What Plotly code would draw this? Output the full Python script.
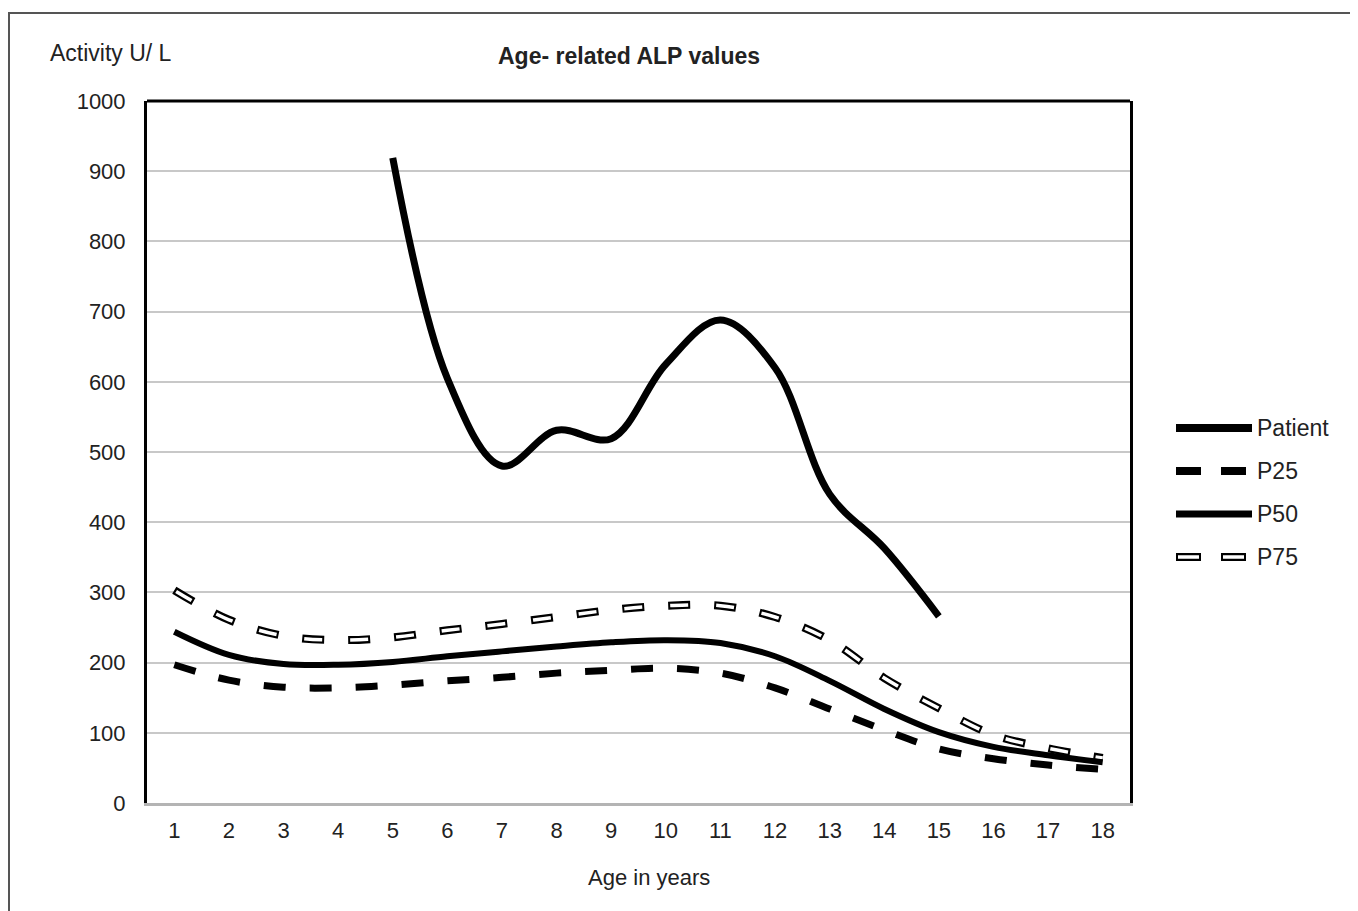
import plotly.graph_objects as go

ages = list(range(1, 19))
patient_ages = list(range(5, 16))
patient = [919, 605, 480, 531, 519, 625, 688, 620, 440, 363, 266]
p25 = [197, 175, 165, 164, 168, 174, 179, 185, 189, 192, 185, 164, 134, 104, 77, 63, 54, 48]
p50 = [244, 211, 198, 197, 201, 209, 216, 223, 229, 232, 228, 209, 174, 134, 101, 80, 68, 58]
p75 = [303, 261, 238, 232, 236, 246, 255, 265, 275, 281, 281, 265, 232, 178, 135, 97, 78, 64]
y_ticks = list(range(0, 1001, 100))
legend_names = ["Patient", "P25", "P50", "P75"]

FONT = "Liberation Sans, Arial, sans-serif"
TXT = "#222222"
fig = go.Figure()

spl = dict(shape="spline", smoothing=1.0)

fig.add_trace(go.Scatter(x=ages, y=p75, mode="lines", showlegend=False,
                         line=dict(color="black", width=8, dash="22px,24px", **spl)))
fig.add_trace(go.Scatter(x=ages, y=p75, mode="lines", showlegend=False,
                         line=dict(color="white", width=3.5, dash="0px,2px,18px,26px", **spl)))
fig.add_trace(go.Scatter(x=ages, y=p50, mode="lines", showlegend=False,
                         line=dict(color="black", width=6, **spl)))
fig.add_trace(go.Scatter(x=ages, y=p25, mode="lines", showlegend=False,
                         line=dict(color="black", width=7, dash="22px,24px", **spl)))
fig.add_trace(go.Scatter(x=patient_ages, y=patient, mode="lines", showlegend=False,
                         line=dict(color="black", width=7, **spl)))

# page offset from body margin (8px)
OX, OY = 8, 8
PL, PR, PT, PB = 147, 1130, 101, 803


def px_x(px):
    return (px - PL) / float(PR - PL)


def px_y(py):
    return (PB - py) / float(PB - PT)


shapes = [
    dict(type="line", xref="paper", yref="paper", x0=0, x1=1, y0=1, y1=1,
         line=dict(color="black", width=3)),
    dict(type="rect", xref="paper", yref="paper", x0=px_x(9), x1=1.4, y0=-0.3, y1=px_y(13),
         line=dict(color="#555555", width=2), fillcolor="rgba(0,0,0,0)"),
]

leg_y = [428, 471, 514, 557]
leg_styles = [
    [dict(color="black", width=8, dash="solid")],
    [dict(color="black", width=8, dash="25px,20px")],
    [dict(color="black", width=7, dash="solid")],
    [dict(color="black", width=8, dash="25px,20px"),
     dict(color="white", width=3.5, dash="0px,2px,21px,22px")],
]
annotations = []
for name, py, styles in zip(legend_names, leg_y, leg_styles):
    for st in styles:
        shapes.append(dict(type="line", xref="paper", yref="paper",
                           x0=px_x(1176), x1=px_x(1252), y0=px_y(py), y1=px_y(py),
                           line=st))
    annotations.append(dict(text=name, xref="paper", yref="paper", x=px_x(1255), y=px_y(py),
                            xanchor="left", yanchor="middle", showarrow=False,
                            font=dict(family=FONT, size=23, color=TXT)))

annotations.append(dict(text="Activity U/ L", xref="paper", yref="paper",
                        x=px_x(48), y=px_y(53), xanchor="left", yanchor="middle",
                        showarrow=False, font=dict(family=FONT, size=23, color=TXT)))
annotations.append(dict(text="<b>Age- related ALP values</b>", xref="paper", yref="paper",
                        x=px_x(629), y=px_y(56), xanchor="center", yanchor="middle",
                        showarrow=False, font=dict(family=FONT, size=23, color=TXT)))
annotations.append(dict(text="Age in years", xref="paper", yref="paper",
                        x=px_x(649), y=px_y(877), xanchor="center", yanchor="middle",
                        showarrow=False, font=dict(family=FONT, size=22, color=TXT)))

W, H = 1358 - OX, 911 - OY
fig.update_layout(
    width=W, height=H,
    margin=dict(l=PL - OX, r=W - (PR - OX), t=PT - OY, b=H - (PB - OY)),
    paper_bgcolor="white", plot_bgcolor="white",
    font=dict(family=FONT, size=22, color=TXT),
    shapes=shapes, annotations=annotations,
    showlegend=False,
)
fig.update_xaxes(range=[0.5, 18.5], tickmode="array", tickvals=ages,
                 ticktext=[str(a) for a in ages], showgrid=False, zeroline=False,
                 showline=True, linecolor="#b4b4b4", linewidth=3, ticks="",
                 ticklabelstandoff=6)
fig.update_yaxes(range=[0, 1000], tickmode="array", tickvals=y_ticks,
                 showgrid=True, gridcolor="#c8c8c8", gridwidth=2, zeroline=False,
                 showline=True, linecolor="black", linewidth=3, mirror=True,
                 ticks="", ticklabelstandoff=14)

fig.write_html("out.html")
